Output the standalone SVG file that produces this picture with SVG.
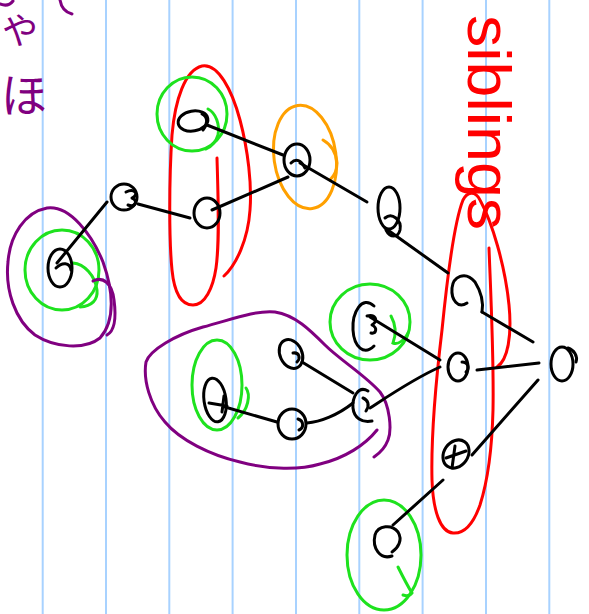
<svg xmlns="http://www.w3.org/2000/svg" width="589" height="614" viewBox="0 0 589 614">
<style>
.rule{stroke:#a8d2ff;stroke-width:2}
.nd{fill:none;stroke:#000;stroke-width:3;stroke-linecap:round;stroke-linejoin:round}
.cn{fill:none;stroke:#000;stroke-width:3;stroke-linecap:round}
.red{fill:none;stroke:#ff0000;stroke-width:3;stroke-linecap:round}
.grn{fill:none;stroke:#1ee21e;stroke-width:3;stroke-linecap:round}
.org{fill:none;stroke:#ffa000;stroke-width:3;stroke-linecap:round}
.pur{fill:none;stroke:#800080;stroke-width:3;stroke-linecap:round}
.jp{fill:#800080;font-family:"Noto Sans CJK JP","Noto Sans CJK SC",sans-serif}
.lbl{fill:#ff0000;font-family:"Liberation Sans",Arial,sans-serif}
</style>
<rect width="589" height="614" fill="#fff"/>
<g id="paper">
<line class="rule" x1="42.7" y1="0" x2="42.7" y2="614"/>
<line class="rule" x1="106" y1="0" x2="106" y2="614"/>
<line class="rule" x1="169.3" y1="0" x2="169.3" y2="614"/>
<line class="rule" x1="232.6" y1="0" x2="232.6" y2="614"/>
<line class="rule" x1="296" y1="0" x2="296" y2="614"/>
<line class="rule" x1="359.3" y1="0" x2="359.3" y2="614"/>
<line class="rule" x1="422.6" y1="0" x2="422.6" y2="614"/>
<line class="rule" x1="486" y1="0" x2="486" y2="614"/>
<line class="rule" x1="549.3" y1="0" x2="549.3" y2="614"/>
</g>
<g id="notes">
<path class="pur" d="M 0 4 C 5 6, 10 5, 13 1"/>
<text class="jp" x="2" y="44" font-size="36">や</text>
<text class="jp" x="1" y="112" font-size="46">ほ</text>
<path class="pur" d="M 60 0 C 61 6, 64 12, 72 14"/>
</g>
<g id="highlights">
<path class="red" d="M 217 158 C 218 195, 220 240, 216 268 C 213 288, 205 305, 193 305 C 180 305, 174 290, 172 270 C 169 240, 169 180, 172 135 C 175 100, 185 70, 202 66 C 218 63, 232 90, 240 120 C 248 150, 252 185, 250 210 C 248 240, 236 265, 224 276"/>
<path class="red" d="M 489 248 C 491 300, 494 360, 493 410 C 492 450, 488 480, 480 505 C 474 522, 465 534, 453 533 C 440 532, 433 510, 432 480 C 431 440, 436 380, 442 330 C 447 280, 455 220, 463 200 C 467 192, 475 190, 480 200 C 492 222, 505 265, 509 305 C 512 335, 508 360, 497 367"/>
<ellipse class="org" cx="305" cy="157" rx="31" ry="52" transform="rotate(-8 305 157)"/>
<path class="org" d="M 323 140 C 330 144, 336 152, 337 163 C 337 170, 334 176, 330 180"/>
<ellipse class="grn" cx="192" cy="114" rx="35" ry="37"/>
<path class="grn" d="M 208 109 C 216 113, 220 125, 218 135 C 216 142, 212 146, 206 149"/>
<ellipse class="grn" cx="62" cy="270" rx="37" ry="40"/>
<path class="grn" d="M 73 263 C 84 264, 95 275, 97 290 C 98 300, 92 306, 80 307"/>
<path class="pur" d="M 47 208 C 70 205, 92 235, 103 262 C 113 290, 116 320, 100 338 C 85 350, 55 348, 35 335 C 15 320, 5 290, 8 262 C 10 235, 25 212, 47 208 Z"/>
<path class="pur" d="M 93 281 C 103 276, 112 283, 114 300 C 116 315, 116 330, 107 335"/>
<ellipse class="grn" cx="370" cy="322" rx="40" ry="38"/>
<path class="grn" d="M 391 316 C 396 325, 396 335, 393 343 C 398 345, 405 340, 408 333"/>
<ellipse class="grn" cx="217" cy="385" rx="25" ry="45"/>
<path class="grn" d="M 246 388 C 251 395, 248 410, 238 418"/>
<ellipse class="grn" cx="384" cy="555" rx="37" ry="55"/>
<path class="grn" d="M 398 567 C 402 575, 407 585, 412 593 C 410 596, 406 596, 403 595"/>
<path class="pur" d="M 377 430 C 365 445, 345 458, 320 464 C 300 470, 270 470, 240 462 C 210 455, 180 440, 165 422 C 150 405, 143 380, 146 362 C 150 350, 175 335, 203 327 C 230 320, 255 310, 275 312 C 295 315, 310 330, 325 345 C 340 360, 365 375, 380 392 C 390 405, 392 430, 388 440 C 385 448, 380 453, 374 457"/>
<text class="lbl" transform="translate(468 15) rotate(90)" font-size="62" textLength="215" lengthAdjust="spacingAndGlyphs">siblings</text>
</g>
<g id="connectors">
<line class="cn" x1="207" y1="125" x2="283" y2="155"/>
<line class="cn" x1="212" y1="210" x2="288" y2="177"/>
<line class="cn" x1="138" y1="204" x2="190" y2="218"/>
<line class="cn" x1="107" y1="202" x2="57" y2="263"/>
<line class="cn" x1="300" y1="163" x2="367" y2="202"/>
<line class="cn" x1="385" y1="228" x2="448" y2="273"/>
<line class="cn" x1="482" y1="312" x2="533" y2="342"/>
<line class="cn" x1="477" y1="370" x2="539" y2="363"/>
<line class="cn" x1="538" y1="380" x2="472" y2="455"/>
<line class="cn" x1="370" y1="317" x2="440" y2="360"/>
<path class="cn" d="M 370 408 C 390 395, 415 378, 440 367"/>
<line class="cn" x1="302" y1="362" x2="353" y2="393"/>
<line class="cn" x1="225" y1="407" x2="277" y2="422"/>
<path class="cn" d="M 307 423 C 320 422, 338 415, 353 403"/>
<line class="cn" x1="443" y1="480" x2="393" y2="525"/>
</g>
<g id="nodeA"><ellipse class="nd" cx="193" cy="121" rx="15" ry="10" transform="rotate(-10 193 121)"/><path class="nd" d="M 202 114 C 208 117, 208 124, 203 130"/></g>
<g id="nodeB"><ellipse class="nd" cx="297" cy="160" rx="13" ry="16"/><path class="nd" d="M 291 163 C 296 158, 301 160, 305 168"/></g>
<g id="nodeC"><ellipse class="nd" cx="124" cy="197" rx="13" ry="13"/><path class="nd" d="M 126 192 C 134 188, 140 194, 132 198 C 138 200, 136 208, 128 205"/></g>
<g id="nodeD"><ellipse class="nd" cx="207" cy="213" rx="13" ry="15"/></g>
<g id="nodeE"><ellipse class="nd" cx="60" cy="268" rx="12" ry="19"/><path class="nd" d="M 56 268 C 62 262, 70 262, 71 270"/></g>
<g id="nodeF"><ellipse class="nd" cx="389" cy="208" rx="11" ry="21"/><path class="nd" d="M 385 218 C 392 212, 402 220, 400 230 C 398 238, 390 238, 386 230"/></g>
<g id="nodeG"><path class="nd" d="M 467 303 C 458 309, 451 300, 452 288 C 453 277, 465 270, 475 282 C 480 290, 484 300, 482 312"/></g>
<g id="nodeH"><ellipse class="nd" cx="458" cy="367" rx="10" ry="14"/><path class="nd" d="M 462 362 C 468 362, 470 368, 466 372"/></g>
<g id="nodeRoot"><ellipse class="nd" cx="562" cy="364" rx="11" ry="17"/><path class="nd" d="M 568 348 C 574 350, 578 356, 576 362"/></g>
<g id="nodeI"><ellipse class="nd" cx="456" cy="454" rx="12" ry="15" transform="rotate(35 456 454)"/><path class="nd" d="M 446 458 L 466 451 M 455 446 L 452 468"/></g>
<g id="nodeJ"><path class="nd" d="M 374 306 C 362 295, 352 312, 353 330 C 354 347, 364 356, 374 346"/><path class="nd" d="M 367 316 C 375 314, 379 320, 372 325 C 378 328, 376 334, 371 333"/></g>
<g id="nodeK"><ellipse class="nd" cx="291" cy="354" rx="11" ry="15" transform="rotate(-25 291 354)"/><path class="nd" d="M 293 353 C 299 352, 301 358, 297 362"/></g>
<g id="nodeL"><path class="nd" d="M 368 391 C 358 385, 352 398, 353 408 C 354 418, 362 423, 372 421"/><path class="nd" d="M 363 398 C 368 400, 370 405, 366 411"/></g>
<g id="nodeM"><ellipse class="nd" cx="292" cy="424" rx="14" ry="15"/><path class="nd" d="M 298 419 C 304 421, 304 428, 299 430"/></g>
<g id="nodeN"><ellipse class="nd" cx="215" cy="400" rx="11" ry="22" transform="rotate(-8 215 400)"/><path class="nd" d="M 209 403 L 227 406 M 224 396 L 222 412"/></g>
<g id="nodeO"><path class="nd" d="M 392 552 C 398 548, 403 540, 398 532 C 392 524, 378 525, 375 535 C 372 548, 380 560, 392 556"/></g>
</svg>
